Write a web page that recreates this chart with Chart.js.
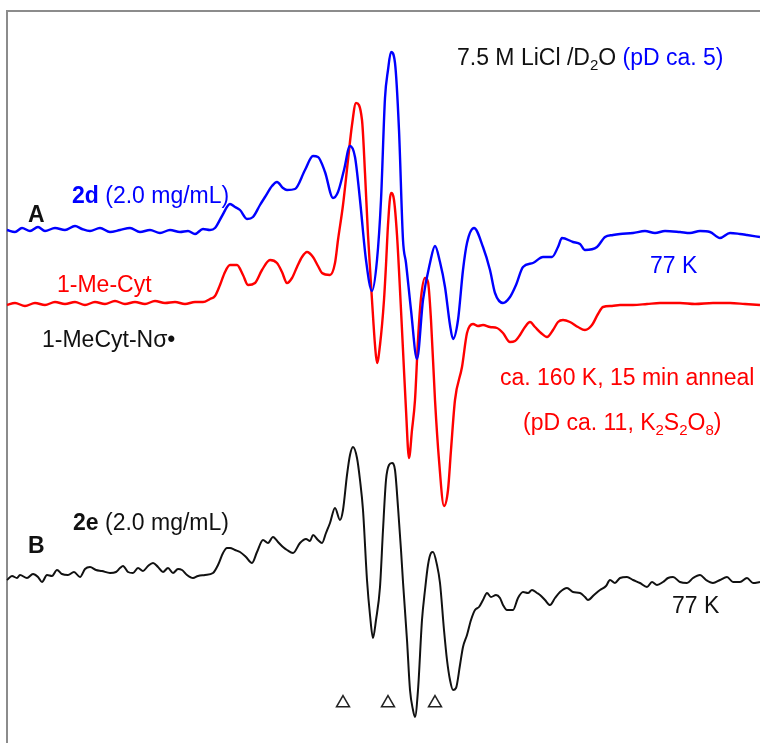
<!DOCTYPE html>
<html lang="en">
<head>
    <meta charset="UTF-8">
    <title>EPR spectra</title>
    <style>
        body {
            margin: 0;
            background: #fff;
        }
        #wrap {
            width: 760px;
            height: 743px;
        }
    </style>
</head>
<body>
    <div id="wrap"><canvas id="myChart"></canvas></div>

    <script src="https://cdn.jsdelivr.net/npm/chart.js"></script>
    <script>
        // spectrum A: 2d (blue), field position / signal
        const blueField = [7,15,22,30,38,45,55,65,75,82, 90,100,110,120,130,140,150,160,170,180, 188,195,203,210,215,222,230,235,240,247, 253,260,265,272,277,283,287,295,305,313, 318,325,333,338,344,350,355,360,366,372, 377,381,385,388,391,395,399,403,406,411, 417,423,430,435,440,445,450,453,458,463, 467,474,483,490,495,503,510,516,523,533, 543,552,558,562,573,580,585,597,605,613, 620,633,645,655,665,680,690,700,710,720, 730,740,747,760];
        const blueSignal = [1,-1,3,0,4,0,3,1,5,2, 0,3,-1,1,3,-1,1,-2,1,-1, 0,-3,2,1,3,15,27,24,21,12, 14,26,34,45,49,43,41,42,61,75, 74,59,33,39,61,85,74,31,-29,-60, -29,31,133,161,179,168,101,-9,-32,-79, -128,-69,-32,-15,-31,-56,-94,-108,-89,-39, -12,3,-16,-39,-62,-72,-66,-54,-36,-32, -26,-26,-16,-7,-11,-13,-19,-16,-6,-4, -3,-2,0,-2,0,-1,-2,0,-1,-7, -2,-3,-4,-6];

        // 1-Me-Cyt annealed (red)
        const redField = [7,15,25,35,45,55,65,75,85,95, 105,115,125,135,145,155,165,175,185,195, 203,210,215,220,225,230,237,243,248,255, 262,270,277,282,287,292,297,302,307,313, 318,322,330,335,338,343,348,352,356,362, 365,368,372,375,377,380,384,386,388,391, 394,397,400,403,406,409,412,415,418,421, 425,428,431,435,439,444,448,451,455,462, 467,473,478,483,490,497,503,510,515,520, 525,530,535,541,547,553,558,563,570,578, 585,592,598,603,612,620,633,647,660,680, 695,713,730,745,760];
        const redSignal = [-1,1,-2,1,-1,2,0,2,-1,2, 0,3,0,2,0,3,1,2,0,2, 2,5,8,19,32,39,39,29,19,21, 34,44,41,32,21,26,37,47,52,47, 38,31,29,41,64,99,144,179,201,184, 131,69,4,-41,-59,-41,4,39,79,111, 104,69,14,-46,-106,-154,-126,-96,-36,6, 26,22,-16,-96,-156,-202,-186,-146,-96,-63, -29,-20,-22,-21,-23,-24,-29,-38,-37,-31, -23,-18,-23,-29,-33,-26,-18,-16,-18,-23, -26,-21,-10,-3,-2,-1,-1,0,1,1, 0,1,1,0,-1];

        // spectrum B: 2e (black)
        const blackField = [7,12,17,20,27,33,38,42,47,52, 57,62,68,74,80,85,90,96,102,110, 116,120,123,128,133,138,143,148,153,158, 163,168,173,178,182,187,193,198,205,213, 218,223,227,230,235,240,246,252,257,263, 268,273,278,283,287,293,300,306,310,313, 318,322,326,330,335,340,343,347,350,353, 357,360,363,367,370,373,376,380,383,386, 389,392,395,398,401,403,407,410,413,415, 418,422,425,428,431,433,437,440,444,447, 450,453,456,460,463,467,471,475,479,483, 487,491,496,500,503,507,513,518,523,528, 532,537,540,545,550,555,560,567,573,580, 585,588,594,600,606,610,615,620,627,633, 640,647,652,657,663,668,673,680,687,693, 700,706,713,720,727,733,740,747,753,760];
        const blackSignal = [-2,2,0,3,0,4,1,-4,3,2, 8,4,3,6,1,9,11,8,7,5, 6,10,12,6,5,10,7,12,15,11, 6,10,5,9,8,3,0,2,3,5, 13,25,30,30,28,26,21,15,26,38, 35,41,36,31,28,25,35,39,37,43, 38,35,45,55,70,58,68,103,123,131, 120,98,68,-2,-37,-60,-42,-9,48,98, 113,115,108,71,28,-4,-62,-112,-132,-139, -112,-42,-12,13,25,26,13,-5,-52,-82, -102,-112,-110,-87,-69,-57,-42,-32,-29,-22, -15,-19,-17,-20,-27,-32,-32,-20,-14,-15, -12,-15,-17,-22,-27,-20,-14,-10,-14,-15, -19,-22,-17,-12,-8,-2,-5,0,1,-2, -5,-9,-4,-7,-4,0,1,-4,-5,0, 3,-2,-5,-2,1,-4,-4,0,-5,-4];

        // line positions marked with triangles
        const markerField = [343, 388, 435];

        // vertical stacking of the traces
        const offsets = { blue: 512, red: 439, black: 165, markers: 40 };

        function toPoints(xs, ys, off) {
            return xs.map((x, i) => ({ x: x, y: ys[i] + off }));
        }

        const FONT = '"Liberation Sans", Arial, sans-serif';

        // text runs: [text, colour, bold, subscript]
        const labels = [
            { x: 457, y: 65, runs: [['7.5 M LiCl /D', '#111'], ['2', '#111', false, true], ['O ', '#111'], ['(pD ca. 5)', '#0000ff']] },
            { x: 72, y: 203, runs: [['2d', '#0000ff', true], [' (2.0 mg/mL)', '#0000ff']] },
            { x: 28, y: 222, runs: [['A', '#111', true]] },
            { x: 650, y: 273, runs: [['77 K', '#0000ff']] },
            { x: 57, y: 292, runs: [['1-Me-Cyt', '#ff0000']] },
            { x: 42, y: 347, runs: [['1-MeCyt-N\u03c3\u2022', '#111']] },
            { x: 500, y: 385, runs: [['ca. 160 K, 15 min anneal', '#ff0000']] },
            { x: 523, y: 430, runs: [['(pD ca. 11, K', '#ff0000'], ['2', '#ff0000', false, true], ['S', '#ff0000'], ['2', '#ff0000', false, true], ['O', '#ff0000'], ['8', '#ff0000', false, true], [')', '#ff0000']] },
            { x: 73, y: 530, runs: [['2e', '#111', true], [' (2.0 mg/mL)', '#111']] },
            { x: 28, y: 553, runs: [['B', '#111', true]] },
            { x: 672, y: 613, runs: [['77 K', '#111']] }
        ];

        const framePlugin = {
            id: 'frame',
            beforeDatasetsDraw(chart) {
                const ctx = chart.ctx;
                const sx = chart.scales.x, sy = chart.scales.y;
                const left = sx.getPixelForValue(7);
                const top = sy.getPixelForValue(732);
                ctx.save();
                ctx.strokeStyle = '#8c8c8c';
                ctx.lineWidth = 2;
                ctx.beginPath();
                ctx.moveTo(left, chart.height);
                ctx.lineTo(left, top);
                ctx.lineTo(chart.width, top);
                ctx.stroke();
                ctx.restore();
            }
        };

        const textPlugin = {
            id: 'labels',
            afterDraw(chart) {
                const ctx = chart.ctx;
                ctx.save();
                ctx.textBaseline = 'alphabetic';
                labels.forEach(l => {
                    let x = l.x;
                    l.runs.forEach(r => {
                        const sub = r[3];
                        ctx.font = (r[2] ? 'bold ' : '') + (sub ? '15px ' : '23px ') + FONT;
                        ctx.fillStyle = r[1];
                        ctx.fillText(r[0], x, l.y + (sub ? 5 : 0));
                        x += ctx.measureText(r[0]).width;
                    });
                });
                ctx.restore();
            }
        };

        new Chart(document.getElementById('myChart'), {
            type: 'line',
            data: {
                datasets: [
                    {
                        data: toPoints(blueField, blueSignal, offsets.blue),
                        borderColor: '#0000ff',
                        borderWidth: 2.4
                    },
                    {
                        data: toPoints(redField, redSignal, offsets.red),
                        borderColor: '#ff0000',
                        borderWidth: 2.4
                    },
                    {
                        data: toPoints(blackField, blackSignal, offsets.black),
                        borderColor: '#111',
                        borderWidth: 2
                    },
                    {
                        data: markerField.map(x => ({ x: x, y: offsets.markers })),
                        showLine: false,
                        pointStyle: 'triangle',
                        pointRadius: 7.5,
                        pointBackgroundColor: '#fff',
                        pointBorderColor: '#222',
                        pointBorderWidth: 1.5
                    }
                ]
            },
            options: {
                responsive: true,
                maintainAspectRatio: false,
                animation: false,
                layout: { padding: 0, autoPadding: false },
                elements: {
                    line: { cubicInterpolationMode: 'monotone' },
                    point: { radius: 0 }
                },
                plugins: {
                    legend: { display: false },
                    tooltip: { enabled: false }
                },
                scales: {
                    x: { type: 'linear', min: 0, max: 760, display: false },
                    y: { min: 0, max: 743, display: false }
                }
            },
            plugins: [framePlugin, textPlugin]
        });
    </script>
</body>
</html>
